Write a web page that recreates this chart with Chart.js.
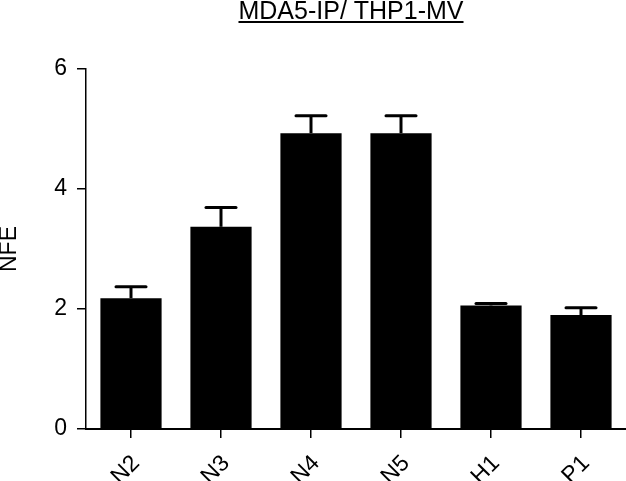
<!DOCTYPE html>
<html>
<head>
<meta charset="utf-8">
<script src="https://cdn.jsdelivr.net/npm/chart.js@4/dist/chart.umd.min.js"></script>
<style>
  html, body { margin: 0; padding: 0; background: #fff; }
  #wrap { width: 626px; height: 481px; }
</style>
</head>
<body>
<div id="wrap"><canvas id="myChart" width="626" height="481"></canvas></div>
<script>
const categories = ['N2', 'N3', 'N4', 'N5', 'H1', 'P1'];
const nfeMeans = [2.18, 3.37, 4.93, 4.93, 2.06, 1.90];
const nfeErrors = [0.19, 0.32, 0.29, 0.29, 0.03, 0.12];
const yTicks = [0, 2, 4, 6];
const chartTitle = 'MDA5-IP/ THP1-MV';

const FONT = "'Liberation Sans', Arial, sans-serif";

// error bars (upper only) and underlined title
const extras = {
    id: 'extras',
    afterDatasetsDraw(chart) {
        const ctx = chart.ctx;
        const yScale = chart.scales.y;
        const meta = chart.getDatasetMeta(0);
        ctx.save();
        ctx.strokeStyle = '#000';
        ctx.lineWidth = 3;
        meta.data.forEach((bar, i) => {
            const top = yScale.getPixelForValue(nfeMeans[i] + nfeErrors[i]);
            ctx.lineCap = 'butt';
            ctx.beginPath();
            ctx.moveTo(bar.x, bar.y);
            ctx.lineTo(bar.x, top);
            ctx.stroke();
            ctx.lineCap = 'round';
            ctx.beginPath();
            ctx.moveTo(bar.x - 15, top);
            ctx.lineTo(bar.x + 15, top);
            ctx.stroke();
        });
        ctx.restore();
    },
    afterDraw(chart) {
        const ctx = chart.ctx;
        const area = chart.chartArea;
        const cx = (area.left + area.right) / 2 - 5;
        ctx.save();
        ctx.font = '25px ' + FONT;
        ctx.fillStyle = '#000';
        ctx.textAlign = 'center';
        ctx.textBaseline = 'alphabetic';
        ctx.fillText(chartTitle, cx, 19);
        const w = ctx.measureText(chartTitle).width;
        ctx.fillRect(cx - w / 2, 21, w, 2);
        ctx.restore();
    }
};

const ctx = document.getElementById('myChart').getContext('2d');
const myChart = new Chart(ctx, {
    type: 'bar',
    data: {
        labels: categories,
        datasets: [{
            label: 'NFE',
            data: nfeMeans,
            backgroundColor: '#000',
            borderWidth: 0,
            categoryPercentage: 1,
            barPercentage: 0.68
        }]
    },
    options: {
        responsive: false,
        animation: false,
        layout: { padding: { top: 69, left: 0, right: 0, bottom: 0 } },
        plugins: {
            legend: { display: false },
            tooltip: { enabled: false }
        },
        scales: {
            x: {
                offset: true,
                border: { display: true, color: '#000', width: 2 },
                grid: {
                    offset: false,
                    drawOnChartArea: false,
                    drawTicks: true,
                    tickLength: 9,
                    color: '#000',
                    lineWidth: 1.5
                },
                ticks: {
                    color: '#000',
                    font: { family: FONT, size: 23 },
                    maxRotation: 45,
                    minRotation: 45,
                    padding: 12,
                    labelOffset: 5
                },
                afterFit(scale) { scale.height = 52; }
            },
            y: {
                min: 0,
                max: 6,
                border: { display: true, color: '#000', width: 1.5 },
                grid: {
                    drawOnChartArea: false,
                    drawTicks: true,
                    tickLength: 9,
                    color: '#000',
                    lineWidth: 1.5
                },
                afterBuildTicks(scale) {
                    scale.ticks = yTicks.map(v => ({ value: v }));
                },
                ticks: {
                    color: '#000',
                    font: { family: FONT, size: 23 },
                    padding: 10
                },
                title: {
                    display: true,
                    text: 'NFE',
                    color: '#000',
                    font: { family: FONT, size: 23, lineHeight: 0.8 },
                    padding: 0
                },
                afterFit(scale) { scale.width = 86; }
            }
        }
    },
    plugins: [extras]
});
</script>
</body>
</html>
